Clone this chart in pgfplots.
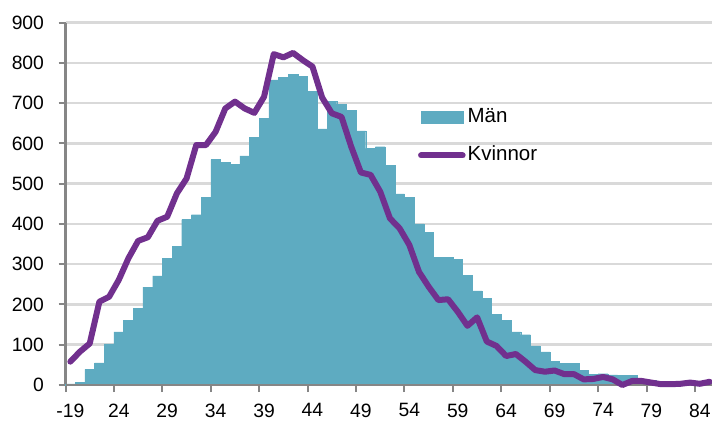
\documentclass[border=0pt]{standalone}
\usepackage{fontspec}
\setmainfont{Liberation Sans}
\usepackage{pgfplots}
\pgfplotsset{compat=1.18}
\definecolor{barc}{RGB}{94,171,193}
\definecolor{linec}{RGB}{113,48,142}
\definecolor{gridc}{RGB}{217,217,217}
\definecolor{axc}{RGB}{134,134,134}
\begin{document}
\begin{tikzpicture}
\begin{axis}[
  at={(65.5pt,36pt)}, anchor=south west,
  scale only axis, width=648.9pt, height=362.3pt,
  xmin=18.5, xmax=85.5, ymin=0, ymax=900,
  clip=false,
  axis lines*=left,
  axis line style={axc, line width=2.5pt},
  ytick={0,100,...,900},
  xtick={18.5,23.5,...,83.5},
  xticklabels={-19,24,29,34,39,44,49,54,59,64,69,74,79,84},
  xticklabel style={xshift=4.84pt, yshift=-8pt},
  yticklabel style={xshift=-11pt},
  tick align=outside, major tick length=7pt,
  tick style={axc, line width=2pt},
  ymajorgrids, grid style={gridc, line width=2.5pt},
  ticklabel style={font=\fontsize{19.3}{19.3}\selectfont},
  /pgf/number format/assume math mode=true,
  legend style={draw=none, fill=none, inner sep=0pt, at={(0.543,0.686)}, anchor=west,
    font=\fontsize{20.5}{20.5}\selectfont, row sep=19pt,
    nodes={inner xsep=2pt, inner ysep=0pt, text height=15pt, text depth=4pt}},
  legend cell align=left,
]
\addplot[ybar, bar width=1, fill=barc, draw=barc, line width=0.3pt,
  legend image code/.code={\fill[barc] (0pt,-5.85pt) rectangle (41.6pt,5.85pt);}]
coordinates {
(19,3) (20,7) (21,39) (22,55) (23,102) (24,132) (25,160) (26,191) (27,243) (28,271)
(29,314) (30,345) (31,411) (32,423) (33,466) (34,560) (35,553) (36,549) (37,569) (38,616)
(39,662) (40,758) (41,764) (42,772) (43,767) (44,730) (45,636) (46,705) (47,698) (48,682)
(49,631) (50,588) (51,592) (52,545) (53,475) (54,467) (55,400) (56,379) (57,317) (58,317)
(59,313) (60,273) (61,234) (62,215) (63,176) (64,160) (65,132) (66,125) (67,97) (68,82)
(69,59) (70,54) (71,54) (72,36) (73,26) (74,28) (75,25) (76,24) (77,24) (78,14)
(79,11) (80,8) (81,7) (82,5) (83,5) (84,5) (85,5)
};
\addlegendentry{Män}
\addplot[axc, line width=2.5pt, forget plot] coordinates {(18.5,0) (85.5,0)};
\addplot[linec, line width=6pt, line join=round, line cap=round,
  legend image code/.code={\draw[linec, line width=6pt, line cap=round] (0pt,0pt) -- (41.6pt,0pt);}]
coordinates {
(19,58) (20,83) (21,103) (22,207) (23,219) (24,261) (25,315) (26,358) (27,367) (28,408)
(29,418) (30,476) (31,513) (32,596) (33,596) (34,629) (35,687) (36,704) (37,687) (38,676)
(39,716) (40,822) (41,814) (42,825) (43,807) (44,791) (45,714) (46,675) (47,666) (48,592)
(49,528) (50,522) (51,480) (52,414) (53,389) (54,348) (55,281) (56,244) (57,211) (58,213)
(59,182) (60,147) (61,168) (62,108) (63,97) (64,72) (65,77) (66,58) (67,37) (68,33)
(69,36) (70,27) (71,27) (72,14) (73,15) (74,20) (75,14) (76,0) (77,10) (78,10)
(79,6) (80,2) (81,2) (82,3) (83,6) (84,3) (85,8)
};
\addlegendentry{Kvinnor}
\end{axis}
\pgfresetboundingbox
\useasboundingbox (0,0) rectangle (712pt,421pt);
\end{tikzpicture}
\end{document}
